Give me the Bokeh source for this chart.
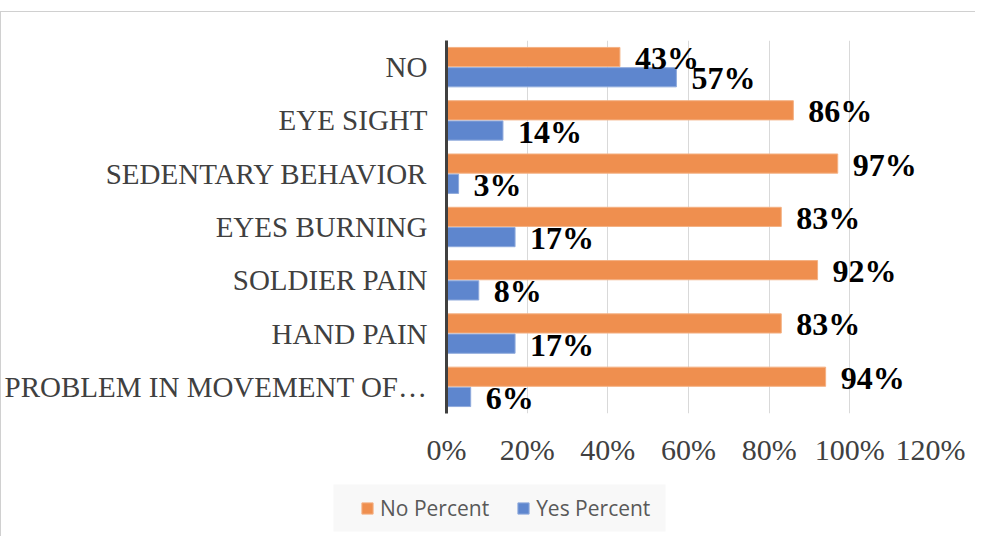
from bokeh.plotting import figure
from bokeh.layouts import column
from bokeh.models import (ColumnDataSource, FactorRange, FixedTicker, NumeralTickFormatter,
                          Legend, LegendItem, LabelSet, BoxAnnotation)
from bokeh.transform import dodge
from bokeh.embed import file_html
from bokeh.resources import INLINE

categories = ["NO", "EYE SIGHT", "SEDENTARY BEHAVIOR", "EYES BURNING",
              "SOLDIER PAIN", "HAND PAIN", "PROBLEM IN MOVEMENT OF\u2026"]
no_percent = [0.43, 0.86, 0.97, 0.83, 0.92, 0.83, 0.94]
yes_percent = [0.57, 0.14, 0.03, 0.17, 0.08, 0.17, 0.06]
x_ticks = [0, 0.2, 0.4, 0.6, 0.8, 1.0, 1.2]
series_names = ["No Percent", "Yes Percent"]

NO_FILL, NO_LINE = "#EF8F4F", "#F4B183"
YES_FILL, YES_LINE = "#5E86CE", "#8FAADC"

src = ColumnDataSource(dict(
    cat=categories,
    no=no_percent,
    yes=yes_percent,
    no_lbl=[f"{round(v*100)}%" for v in no_percent],
    yes_lbl=[f"{round(v*100)}%" for v in yes_percent],
))

p = figure(width=974, height=468, output_backend="svg", toolbar_location=None,
           y_range=FactorRange(factors=list(reversed(categories))),
           x_range=(0, 1.2),
           min_border_left=441, min_border_right=45, min_border_top=28, min_border_bottom=67)
p.frame_align = False
p.outline_line_color = None
p.background_fill_color = "white"
p.border_fill_color = "white"

p.hbar(y=dodge("cat", 0.19, range=p.y_range), right="no", left=0, height=0.36, source=src,
       fill_color=NO_FILL, line_color=NO_LINE, line_width=1)
p.hbar(y=dodge("cat", -0.19, range=p.y_range), right="yes", left=0, height=0.36, source=src,
       fill_color=YES_FILL, line_color=YES_LINE, line_width=1)

for col, lbl, off in (("no", "no_lbl", 0.19), ("yes", "yes_lbl", -0.19)):
    ls = LabelSet(x=col, y=dodge("cat", off, range=p.y_range), text=lbl, source=src,
                  x_offset=15, y_offset=-1, text_align="left", text_baseline="middle",
                  text_font="Liberation Serif", text_font_style="bold",
                  text_font_size="32px", text_color="black")
    p.add_layout(ls)

# axes
p.xaxis.ticker = FixedTicker(ticks=x_ticks)
p.xaxis.formatter = NumeralTickFormatter(format="0%")
p.xaxis.axis_line_color = None
p.xaxis.major_tick_line_color = None
p.xaxis.minor_tick_line_color = None
p.xaxis.major_tick_out = 0
p.xaxis.major_label_standoff = 19
p.xaxis.major_label_text_font = "Liberation Serif"
p.xaxis.major_label_text_font_size = "30px"
p.xaxis.major_label_text_color = "#404040"

p.yaxis.axis_line_color = "#404040"
p.yaxis.axis_line_width = 3
p.yaxis.major_tick_line_color = None
p.yaxis.minor_tick_line_color = None
p.yaxis.major_tick_out = 0
p.yaxis.major_label_standoff = 19
p.yaxis.major_label_text_font = "Liberation Serif"
p.yaxis.major_label_text_font_size = "29px"
p.yaxis.major_label_text_color = "#404040"

p.xgrid.ticker = FixedTicker(ticks=x_ticks)
p.xgrid.grid_line_color = "#d9d9d9"
p.xgrid.grid_line_width = 1
p.ygrid.grid_line_color = None

# legend strip
lf = figure(width=974, height=56, output_backend="svg", toolbar_location=None,
            x_axis_type=None, y_axis_type=None, x_range=(0, 1), y_range=(0, 1),
            min_border=0)
lf.frame_align = False
lf.outline_line_color = None
lf.grid.grid_line_color = None
lf.border_fill_color = "white"
lf.background_fill_color = "white"
lf.add_layout(BoxAnnotation(left=332, right=664, top=5, bottom=52,
                            left_units="screen", right_units="screen",
                            top_units="screen", bottom_units="screen",
                            fill_color="#f8f8f8", fill_alpha=1.0, line_color=None))
# legend proxies (no drawable geometry, only styling for the legend swatches)
nan = float("nan")
proxy = dict(y=[nan], right=[nan])
g_no = lf.hbar(y="y", right="right", height=0.5, source=ColumnDataSource(proxy),
               fill_color=NO_FILL, line_color=NO_LINE)
g_yes = lf.hbar(y="y", right="right", height=0.5, source=ColumnDataSource(proxy),
                fill_color=YES_FILL, line_color=YES_LINE)
legend = Legend(items=[LegendItem(label=series_names[0], renderers=[g_no]),
                       LegendItem(label=series_names[1], renderers=[g_yes])],
                orientation="horizontal", location=(359, 14),
                label_text_font="Open Sans", label_text_font_size="21px",
                label_text_color="#595959", glyph_width=14, glyph_height=14,
                label_height=21, label_standoff=6, spacing=27, padding=0, margin=0,
                background_fill_alpha=0.0, border_line_color=None)
lf.add_layout(legend, "center")

layout = column(p, lf, spacing=0)
layout.styles = {"border-top": "1px solid #d0d0d0", "border-left": "1px solid #d0d0d0",
                 "margin-top": "11px"}

open("out.html", "w").write(file_html(layout, INLINE))
